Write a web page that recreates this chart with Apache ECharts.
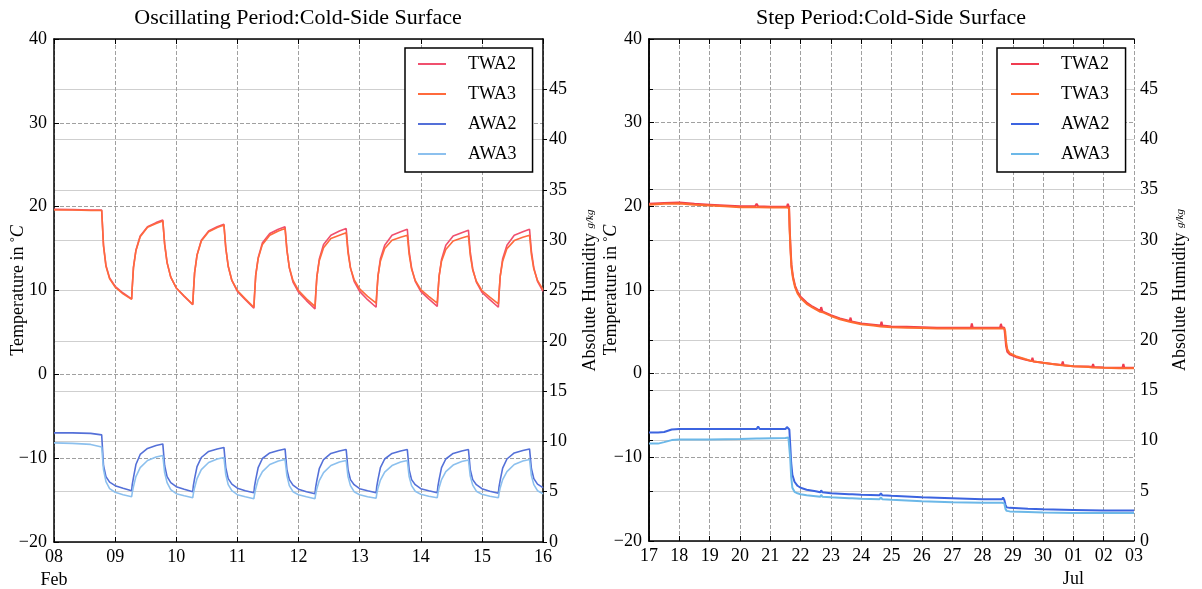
<!DOCTYPE html>
<html><head><meta charset="utf-8">
<script src="https://cdn.jsdelivr.net/npm/echarts@6/dist/echarts.min.js"></script>
<style>html,body{margin:0;padding:0;background:#fff}#c{width:1202px;height:589px}</style>
</head><body><div id="c"></div>
<script>
// ---------- Oscillating period (days of February) ----------
const oscDays = [
 8.00, 8.30, 8.60, 8.78,
 8.81, 8.85, 8.91, 9.00, 9.13, 9.27,
 9.28, 9.30, 9.34, 9.41, 9.53, 9.67, 9.78,
 9.81, 9.85, 9.91, 10.00, 10.13, 10.27,
 10.28, 10.30, 10.34, 10.41, 10.53, 10.67, 10.78,
 10.81, 10.85, 10.91, 11.00, 11.13, 11.27,
 11.28, 11.30, 11.34, 11.41, 11.53, 11.67, 11.78,
 11.81, 11.85, 11.91, 12.00, 12.13, 12.27,
 12.28, 12.30, 12.34, 12.41, 12.53, 12.67, 12.78,
 12.81, 12.85, 12.91, 13.00, 13.13, 13.27,
 13.28, 13.30, 13.34, 13.41, 13.53, 13.67, 13.78,
 13.81, 13.85, 13.91, 14.00, 14.13, 14.27,
 14.28, 14.30, 14.34, 14.41, 14.53, 14.67, 14.78,
 14.81, 14.85, 14.91, 15.00, 15.13, 15.27,
 15.28, 15.30, 15.34, 15.41, 15.53, 15.67, 15.78,
 15.81, 15.85, 15.91, 16.00
];
const oscTWA2 = [
 19.7, 19.65, 19.6, 19.6,
 15.4, 13.0, 11.5, 10.5, 9.7, 9.0,
 10.4, 12.8, 14.8, 16.5, 17.6, 18.1, 18.4,
 15.6, 13.35, 11.6, 10.3, 9.3, 8.3,
 9.7, 12.1, 14.25, 16.0, 17.1, 17.6, 17.9,
 15.1, 12.9, 11.2, 9.9, 8.9, 7.9,
 9.35, 11.8, 13.9, 15.7, 16.8, 17.3, 17.6,
 14.9, 12.7, 11.0, 9.8, 8.8, 7.8,
 9.2, 11.6, 13.75, 15.5, 16.6, 17.1, 17.4,
 14.8, 12.7, 11.1, 9.9, 8.9, 8.0,
 9.4, 11.7, 13.8, 15.4, 16.6, 17.0, 17.3,
 14.7, 12.7, 11.1, 9.9, 9.0, 8.1,
 9.5, 11.7, 13.7, 15.4, 16.5, 16.9, 17.2,
 14.6, 12.6, 11.0, 9.8, 8.9, 8.0,
 9.4, 11.7, 13.8, 15.4, 16.6, 17.0, 17.3,
 14.7, 12.7, 11.1, 9.9
];
const oscTWA3 = [
 19.6, 19.6, 19.55, 19.55,
 15.3, 12.9, 11.4, 10.4, 9.6, 8.95,
 10.35, 12.7, 14.75, 16.4, 17.55, 18.0, 18.3,
 15.5, 13.3, 11.6, 10.3, 9.35, 8.35,
 9.75, 12.1, 14.2, 15.9, 17.0, 17.5, 17.8,
 15.1, 12.9, 11.2, 10.0, 9.0, 8.0,
 9.4, 11.8, 13.8, 15.5, 16.6, 17.1, 17.4,
 14.8, 12.75, 11.2, 10.0, 9.0, 8.1,
 9.4, 11.6, 13.55, 15.1, 16.2, 16.6, 16.9,
 14.5, 12.7, 11.3, 10.2, 9.3, 8.5,
 9.7, 11.7, 13.5, 15.0, 16.0, 16.35, 16.6,
 14.3, 12.55, 11.2, 10.1, 9.3, 8.5,
 9.7, 11.7, 13.5, 14.9, 15.9, 16.25, 16.5,
 14.2, 12.45, 11.1, 10.0, 9.2, 8.4,
 9.6, 11.7, 13.5, 15.0, 15.95, 16.35, 16.6,
 14.3, 12.55, 11.2, 10.1
];
const oscAWA2 = [
 10.85, 10.85, 10.8, 10.65,
 7.6, 6.5, 5.95, 5.6, 5.35, 5.1,
 5.7, 6.4, 7.7, 8.7, 9.3, 9.6, 9.75,
 7.6, 6.5, 5.9, 5.5, 5.25, 5.0,
 5.6, 6.3, 7.5, 8.4, 9.0, 9.25, 9.4,
 7.4, 6.3, 5.75, 5.35, 5.1, 4.9,
 5.5, 6.2, 7.4, 8.3, 8.85, 9.1, 9.25,
 7.2, 6.2, 5.65, 5.25, 5.0, 4.8,
 5.4, 6.1, 7.3, 8.2, 8.8, 9.05, 9.2,
 7.2, 6.2, 5.7, 5.3, 5.1, 4.9,
 5.5, 6.2, 7.4, 8.25, 8.8, 9.05, 9.2,
 7.2, 6.2, 5.7, 5.3, 5.1, 4.9,
 5.5, 6.2, 7.4, 8.25, 8.8, 9.05, 9.2,
 7.2, 6.2, 5.7, 5.3, 5.05, 4.85,
 5.45, 6.15, 7.35, 8.25, 8.85, 9.1, 9.25,
 7.3, 6.3, 5.75, 5.4
];
const oscAWA3 = [
 9.85, 9.8, 9.7, 9.45,
 7.2, 6.0, 5.3, 4.95, 4.7, 4.5,
 4.9, 5.5, 6.5, 7.4, 8.1, 8.45, 8.6,
 6.9, 5.9, 5.2, 4.8, 4.6, 4.4,
 4.8, 5.4, 6.3, 7.2, 7.9, 8.25, 8.4,
 6.7, 5.7, 5.1, 4.7, 4.5, 4.3,
 4.7, 5.3, 6.2, 7.0, 7.7, 8.05, 8.2,
 6.6, 5.6, 5.0, 4.7, 4.5, 4.3,
 4.7, 5.3, 6.1, 6.9, 7.6, 7.95, 8.1,
 6.5, 5.6, 5.0, 4.7, 4.5, 4.35,
 4.75, 5.35, 6.15, 6.95, 7.6, 7.95, 8.1,
 6.5, 5.6, 5.05, 4.75, 4.55, 4.4,
 4.8, 5.4, 6.2, 7.0, 7.65, 8.0, 8.15,
 6.55, 5.65, 5.05, 4.75, 4.55, 4.4,
 4.8, 5.4, 6.2, 7.0, 7.7, 8.05, 8.2,
 6.6, 5.7, 5.1, 4.8
];
const oscTickLabels = ['08','09','10','11','12','13','14','15','16'];
const oscMonthLabels = ['Feb','','','','','','','',''];

// ---------- Step period (days since 17 June) ----------
const stepDaysT = [0, 0.5, 1, 1.5, 2, 2.5, 3, 3.5, 3.55, 3.6, 4, 4.3, 4.55, 4.58, 4.62, 4.64, 4.67, 4.70, 4.75, 4.82,
 4.90, 5.0, 5.2, 5.4, 5.65, 5.68, 5.72, 6.0, 6.3, 6.62, 6.65, 6.68, 7.0, 7.4, 7.64, 7.67, 7.7, 8.0, 8.5, 9.0,
 9.5, 10.0, 10.62, 10.65, 10.68, 11.0, 11.5, 11.58, 11.61, 11.64, 11.72, 11.75, 11.78, 11.82, 11.9, 12.1, 12.4, 12.62, 12.65, 12.68,
 13.0, 13.3, 13.62, 13.65, 13.68, 14.0, 14.5, 14.62, 14.65, 14.68, 15.0, 15.5, 15.62, 15.65, 15.68, 16.0];
const stepTWA2 = [20.3, 20.4, 20.45, 20.3, 20.2, 20.1, 20.0, 20.0, 20.3, 20.0, 19.95, 19.95, 19.95, 20.3, 19.9, 17.5, 15.0, 13.0, 11.6, 10.5,
 9.8, 9.2, 8.5, 8.0, 7.5, 7.95, 7.45, 7.0, 6.6, 6.3, 6.7, 6.25, 6.0, 5.85, 5.75, 6.2, 5.75, 5.65, 5.6, 5.55,
 5.5, 5.5, 5.5, 6.0, 5.5, 5.5, 5.5, 5.5, 5.95, 5.55, 5.5, 4.5, 3.3, 2.6, 2.3, 2.0, 1.7, 1.5, 1.9, 1.45,
 1.3, 1.15, 1.05, 1.45, 1.0, 0.9, 0.85, 0.8, 1.15, 0.8, 0.75, 0.7, 0.7, 1.15, 0.7, 0.7];
const stepTWA3 = [20.2, 20.3, 20.35, 20.2, 20.1, 20.0, 19.9, 19.9, 19.95, 19.9, 19.85, 19.85, 19.85, 19.9, 19.8, 17.2, 14.6, 12.7, 11.4, 10.3,
 9.6, 9.05, 8.35, 7.9, 7.4, 7.5, 7.35, 6.9, 6.5, 6.2, 6.3, 6.15, 5.9, 5.75, 5.65, 5.75, 5.65, 5.55, 5.5, 5.45,
 5.4, 5.4, 5.4, 5.55, 5.4, 5.4, 5.4, 5.4, 5.5, 5.45, 5.4, 5.1, 3.8, 2.9, 2.45, 2.1, 1.75, 1.5, 1.6, 1.45,
 1.3, 1.15, 1.0, 1.1, 1.0, 0.9, 0.8, 0.75, 0.85, 0.75, 0.7, 0.65, 0.65, 0.75, 0.65, 0.65];
const stepDaysH = [0, 0.3, 0.5, 0.75, 1, 2, 3, 3.55, 3.6, 3.65, 4.5, 4.55, 4.6, 4.63, 4.66, 4.69, 4.73, 4.8, 4.9, 5,
 5.2, 5.5, 5.65, 5.68, 5.72, 6, 6.6, 6.65, 6.7, 7, 7.6, 7.65, 7.7, 8, 9, 10, 11, 11.65, 11.68, 11.72,
 11.76, 11.8, 11.9, 12.5, 13, 14, 15, 16];
const stepAWA2 = [10.8, 10.8, 10.85, 11.1, 11.15, 11.15, 11.15, 11.15, 11.4, 11.15, 11.15, 11.35, 11.2, 11.1, 9.5, 7.8, 6.6, 5.9, 5.5, 5.3,
 5.1, 4.95, 4.85, 5.05, 4.85, 4.75, 4.65, 4.8, 4.65, 4.6, 4.55, 4.75, 4.55, 4.5, 4.35, 4.25, 4.15, 4.15, 4.35, 4.1,
 3.6, 3.35, 3.3, 3.2, 3.15, 3.1, 3.05, 3.05];
const stepAWA3 = [9.7, 9.7, 9.85, 10.05, 10.1, 10.1, 10.15, 10.2, 10.35, 10.2, 10.25, 10.4, 10.3, 10.25, 8.2, 6.4, 5.3, 4.9, 4.75, 4.65,
 4.55, 4.45, 4.4, 4.6, 4.4, 4.35, 4.25, 4.4, 4.25, 4.2, 4.15, 4.35, 4.15, 4.1, 3.95, 3.85, 3.8, 3.8, 3.95, 3.75,
 3.2, 3.0, 2.95, 2.9, 2.85, 2.8, 2.78, 2.78];
const stepTickLabels = ['17','18','19','20','21','22','23','24','25','26','27','28','29','30','01','02','03'];
const stepMonthLabels = ['','','','','','','','','','','','','','','Jul','',''];

const seriesNames = ['TWA2','TWA3','AWA2','AWA3'];
const titles = ['Oscillating Period:Cold-Side Surface', 'Step Period:Cold-Side Surface'];

// ---------- chart ----------
const FONT = "'Liberation Serif','DejaVu Serif',serif";
const pairs = (xs, ys) => xs.map((x, i) => [x, ys[i]]);
const minus = v => (v < 0 ? '\u2212' + Math.abs(v) : String(v));

const grids = [
  {left: 54, top: 39, width: 489, height: 503, outerBoundsMode: 'none', containLabel: false},
  {left: 649, top: 39, width: 485, height: 502, outerBoundsMode: 'none', containLabel: false}
];
const xRanges = [[8, 16], [0, 16]];
const tickSets = [[oscTickLabels, oscMonthLabels], [stepTickLabels, stepMonthLabels]];
const leftNameGaps = [27, 29];
const rightNameGaps = [38, 37];

const xAxes = [], yAxes = [];
[0, 1].forEach(g => {
  const [mn, mx] = xRanges[g];
  const [ticks, months] = tickSets[g];
  xAxes.push({
    type: 'value', gridIndex: g, min: mn, max: mx, interval: 1, position: 'bottom',
    axisLine: {show: true, onZero: false, lineStyle: {color: '#000', width: 1.5}},
    axisTick: {show: true, inside: true, length: 5, lineStyle: {color: '#000', width: 1}},
    axisLabel: {
      color: '#000', fontFamily: FONT, fontSize: 18, margin: 4, lineHeight: 23,
      formatter: v => { const i = Math.round(v - mn); return ticks[i] + (months[i] ? '\n' + months[i] : ''); }
    },
    splitLine: {show: true, lineStyle: {color: '#a0a0a0', type: [4, 2], width: 1}}
  });
  xAxes.push({
    type: 'value', gridIndex: g, min: mn, max: mx, interval: 1, position: 'top',
    axisLine: {show: true, onZero: false, lineStyle: {color: '#000', width: 1.5}},
    axisTick: {show: true, inside: true, length: 5, lineStyle: {color: '#000', width: 1}},
    axisLabel: {show: false}, splitLine: {show: false}
  });
  yAxes.push({
    type: 'value', gridIndex: g, min: -20, max: 40, interval: 10, position: 'left',
    name: 'Temperature in {s|\u00b0}{i|C}', nameLocation: 'middle', nameGap: leftNameGaps[g],
    nameMoveOverlap: false,
    nameTextStyle: {color: '#000', fontFamily: FONT, fontSize: 18,
      rich: {s: {fontFamily: FONT, fontSize: 12, verticalAlign: 'top', color: '#000'},
             i: {fontFamily: FONT, fontSize: 18, fontStyle: 'italic', color: '#000'}}},
    axisLine: {show: true, lineStyle: {color: '#000', width: 1.5}},
    axisTick: {show: true, inside: true, length: 5, lineStyle: {color: '#000'}},
    axisLabel: {color: '#000', fontFamily: FONT, fontSize: 18, margin: 7, formatter: minus},
    splitLine: {show: true, lineStyle: {color: '#a0a0a0', type: [4, 2], width: 1}}
  });
  yAxes.push({
    type: 'value', gridIndex: g, min: 0, max: 50, interval: 5, position: 'right',
    name: '{a|Absolute Humidity }{f|g/kg}', nameLocation: 'middle', nameGap: rightNameGaps[g], nameRotate: 90,
    nameMoveOverlap: false,
    nameTextStyle: {color: '#000', fontFamily: FONT, fontSize: 18,
      rich: {a: {fontFamily: FONT, fontSize: 18, color: '#000'},
             f: {fontFamily: FONT, fontSize: 11, fontStyle: 'italic', color: '#000'}}},
    axisLine: {show: true, lineStyle: {color: '#000', width: 1.5}},
    axisTick: {show: true, inside: false, length: 4, lineStyle: {color: '#000'}},
    axisLabel: {color: '#000', fontFamily: FONT, fontSize: 18, margin: 6, showMaxLabel: false},
    splitLine: {show: true, lineStyle: {color: '#cfcfcf', width: 1}}
  });
});

const colors = [
  ['#f0506e', '#ff6a3c', '#5470d8', '#8cc0ee'],
  ['#f03c50', '#ff6a30', '#3c64e0', '#6cb8e8']
];
const dataSets = [
  [pairs(oscDays, oscTWA2), pairs(oscDays, oscTWA3), pairs(oscDays, oscAWA2), pairs(oscDays, oscAWA3)],
  [pairs(stepDaysT, stepTWA2), pairs(stepDaysT, stepTWA3), pairs(stepDaysH, stepAWA2), pairs(stepDaysH, stepAWA3)]
];
const series = [];
[0, 1].forEach(g => {
  seriesNames.forEach((n, k) => {
    series.push({
      type: 'line', name: g === 0 ? n : n + ' ',
      xAxisIndex: g * 2, yAxisIndex: g * 2 + (k < 2 ? 0 : 1),
      data: dataSets[g][k], symbol: 'none', smooth: false,
      lineStyle: {color: colors[g][k], width: g === 0 ? 1.6 : 2},
      itemStyle: {color: colors[g][k]}
    });
  });
});

const legendCommon = {
  orient: 'vertical', top: 48, backgroundColor: '#fff',
  borderColor: '#000', borderWidth: 1.5, borderRadius: 0,
  icon: 'rect', itemWidth: 28, itemHeight: 2, itemGap: 12,
  textStyle: {color: '#000', fontFamily: FONT, fontSize: 18, lineHeight: 18, padding: [0, 0, 0, 17]},
  formatter: n => n.trim()
};

const chart = echarts.init(document.getElementById('c'), null, {renderer: 'canvas'});
chart.setOption({
  animation: false,
  backgroundColor: '#fff',
  title: [
    {text: titles[0], left: 298, top: 7, textAlign: 'center', padding: 0,
     textStyle: {fontFamily: FONT, fontSize: 22, fontWeight: 'normal', color: '#000'}},
    {text: titles[1], left: 891, top: 7, textAlign: 'center', padding: 0,
     textStyle: {fontFamily: FONT, fontSize: 22, fontWeight: 'normal', color: '#000'}}
  ],
  legend: [
    Object.assign({}, legendCommon, {left: 405, padding: [7, 16, 9, 13], data: seriesNames.slice()}),
    Object.assign({}, legendCommon, {left: 997, padding: [7, 16, 9, 14], data: seriesNames.map(n => n + ' ')})
  ],
  grid: grids,
  xAxis: xAxes,
  yAxis: yAxes,
  series: series
});
</script></body></html>
